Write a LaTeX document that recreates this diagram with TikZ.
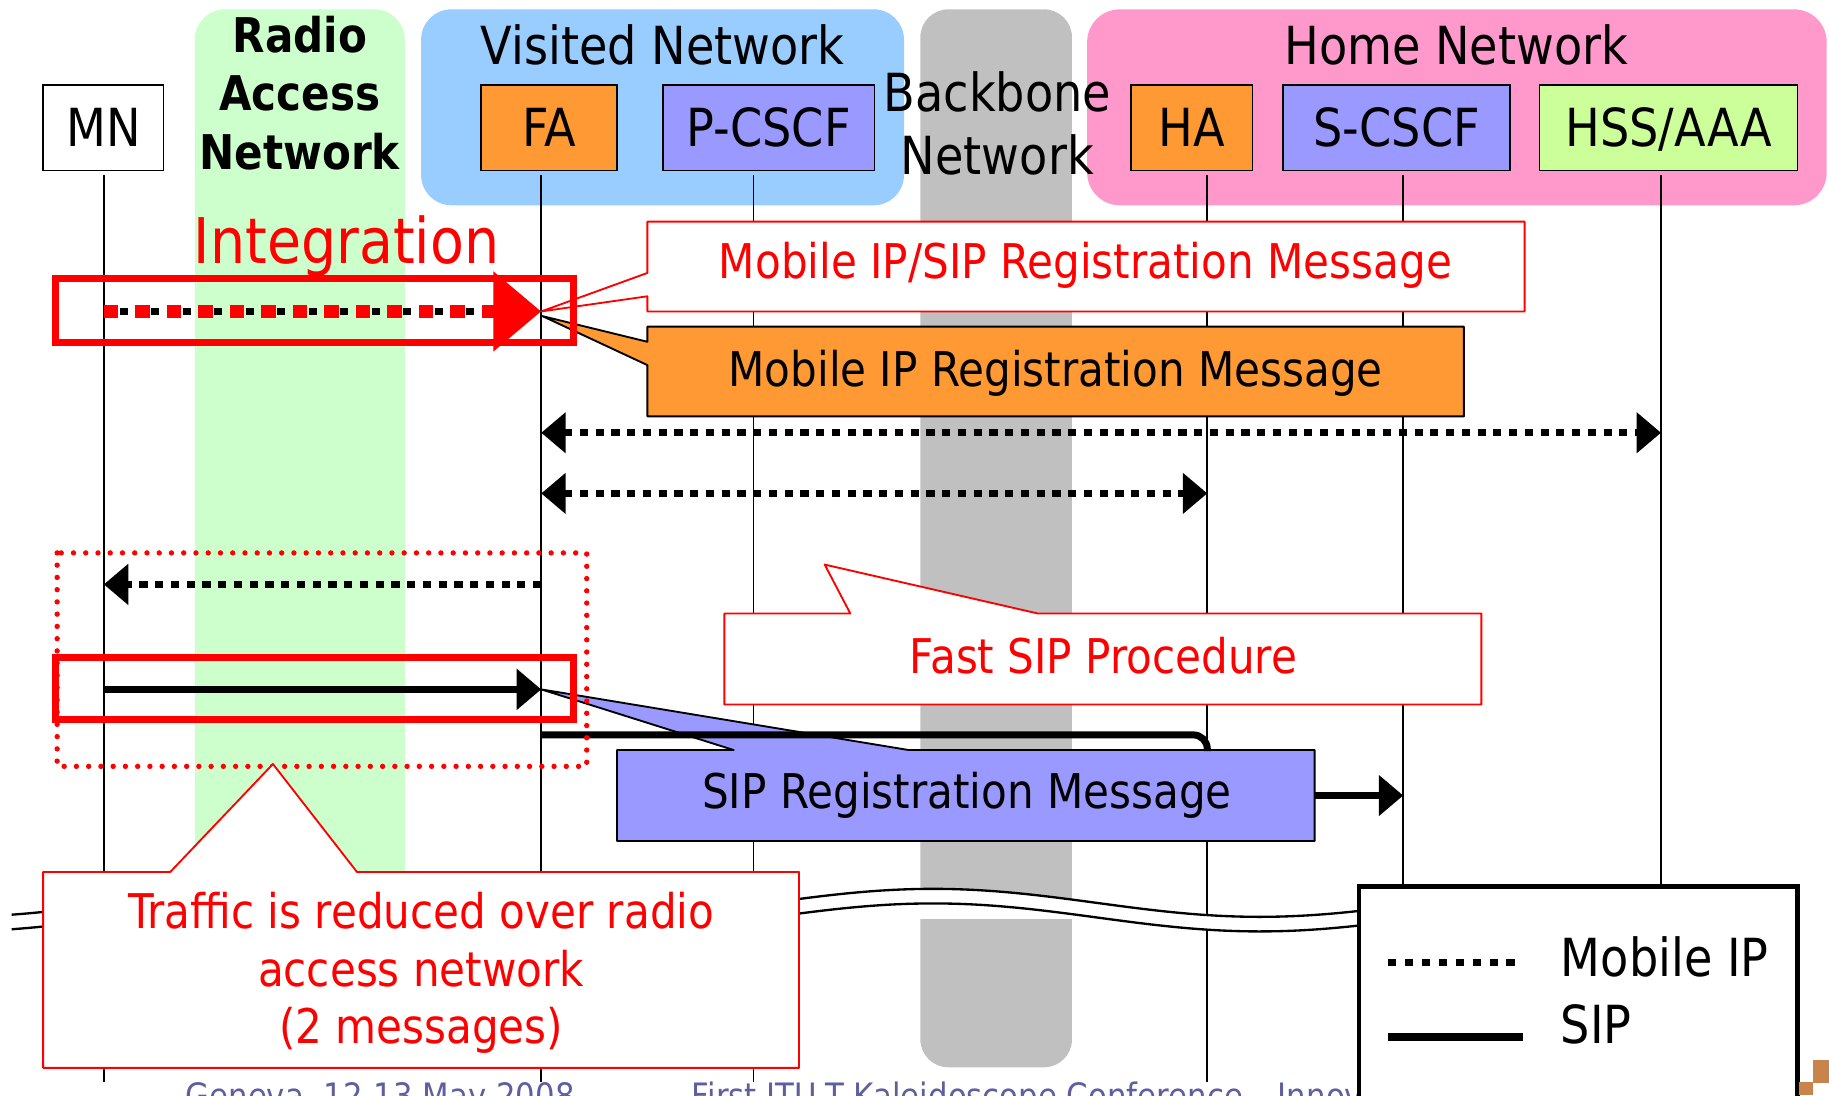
\documentclass[tikz,border=0pt]{standalone}
\usepackage{fontspec}
\setmainfont[FakeStretch=0.88]{DejaVu Sans}
\usetikzlibrary{arrows.meta}
\newcommand\diagfs[1]{\fontsize{#1}{#1}\selectfont}
\definecolor{ranGreen}{HTML}{CCFFCC}
\definecolor{visBlue}{HTML}{99CCFF}
\definecolor{bbGray}{HTML}{C0C0C0}
\definecolor{homePink}{HTML}{FF99CC}
\definecolor{agentOrange}{HTML}{FF9933}
\definecolor{cscfBlue}{HTML}{9999FF}
\definecolor{hssGreen}{HTML}{CCFF99}
\definecolor{footBlue}{HTML}{5F5F9F}
\definecolor{cornerBrown}{HTML}{C8844A}
\begin{document}
\begin{tikzpicture}[x=1pt, y=-1pt,
  >={Triangle[length=21pt,width=34pt]},
  ent/.style={draw=black, line width=1.3pt, minimum height=73.5pt, inner sep=0pt,
              text height=32.8pt, text depth=0pt, font=\diagfs{45}},
  lifeline/.style={line width=1.4pt},
  mip/.style={line width=6pt, dash pattern=on 7pt off 6.5pt},
  sipline/.style={line width=6pt},
  redcall/.style={draw=red, line width=1.6pt, fill=white, line join=round},
  blkcall/.style={draw=black, line width=1.6pt, line join=round},
  msg/.style={anchor=base, font=\diagfs{41}, inner sep=0pt},
  bandlbl/.style={anchor=base, font=\diagfs{45}, inner sep=0pt},
  wave/.style={line width=2pt}
]
\useasboundingbox (0,0) rectangle (1568,939);
\clip (0,0) rectangle (1568,939);

% network domains
\fill[ranGreen, rounded corners=26pt] (167,8) rectangle (347,900);
\fill[visBlue, rounded corners=26pt] (361,8) rectangle (775,176);
\fill[bbGray, rounded corners=24pt] (789,8) rectangle (919,915);
\fill[white] (787,772) rectangle (921,788);
\fill[homePink, rounded corners=28pt] (932,8) rectangle (1566,176);

\node[anchor=base, font=\bfseries\diagfs{41}, inner sep=0pt] (ranA) at (257,45) {Radio};
\node[anchor=base, font=\bfseries\diagfs{41}, inner sep=0pt] (ranB) at (257,95) {Access};
\node[anchor=base, font=\bfseries\diagfs{41}, inner sep=0pt] (ranC) at (257,145) {Network};
\node[bandlbl] (vis) at (568,55) {Visited Network};
\node[bandlbl] (bbA) at (855,96) {Backbone};
\node[bandlbl] (bbB) at (855,150) {Network};
\node[bandlbl] (home) at (1248.5,55) {Home Network};

% entities
\node[ent, fill=white, minimum width=103.5pt] (mn) at (88.6,109.6) {MN};
\node[ent, fill=agentOrange, minimum width=116.5pt] (fa) at (470.8,109.6) {FA};
\node[ent, fill=cscfBlue, minimum width=181pt] (pcscf) at (659,109.6) {P-CSCF};
\node[ent, fill=agentOrange, minimum width=104pt] (ha) at (1021.8,109.6) {HA};
\node[ent, fill=cscfBlue, minimum width=194.6pt] (scscf) at (1197.3,109.6) {S-CSCF};
\node[ent, fill=hssGreen, minimum width=221pt] (hss) at (1430.5,109.6) {HSS/AAA};

% lifelines and message rows
\coordinate (lmn) at (89,0);
\coordinate (lfa) at (464,0);
\coordinate (lpc) at (646,0);
\coordinate (lha) at (1035,0);
\coordinate (lsc) at (1203,0);
\coordinate (lhss) at (1424,0);
\coordinate (rtop) at (0,150);
\coordinate (rbot) at (0,928);
\coordinate (r267) at (0,267);
\coordinate (r371) at (0,371);
\coordinate (r423) at (0,423);
\coordinate (r501) at (0,501);
\coordinate (r591) at (0,591);
\coordinate (r630) at (0,630);
\coordinate (r644) at (0,644);
\foreach \l in {lmn,lfa,lpc,lha,lsc,lhss}
  \draw[lifeline] (\l |- rtop) -- (\l |- rbot);

% time break
\fill[white] plot[domain=10:1170, samples=100, smooth] (\x,{774+12*cos(0.642857*(\x-1080))})
  -- plot[domain=1170:10, samples=100, smooth] (\x,{786.5+12*cos(0.642857*(\x-1080))}) -- cycle;
\draw[wave] plot[domain=10:1170, samples=100, smooth] (\x,{774+12*cos(0.642857*(\x-1080))});
\draw[wave] plot[domain=10:1170, samples=100, smooth] (\x,{786.5+12*cos(0.642857*(\x-1080))});

% callouts
\draw[redcall] (555,190) -- (1307,190) -- (1307,267) -- (555,267) -- (555,254) -- (464,267) -- (555,234) -- cycle;
\node[msg, text=red] (mipsip) at (930.5,239) {Mobile IP/SIP Registration Message};

\draw[blkcall, fill=agentOrange] (555,280) -- (1255,280) -- (1255,357) -- (555,357) -- (555,313) -- (465,271) -- (555,293) -- cycle;
\node[msg] (mipreg) at (905,331) {Mobile IP Registration Message};

\draw[redcall] (621,526) -- (729,526) -- (707,484) -- (890,526) -- (1270,526) -- (1270,604) -- (621,604) -- cycle;
\node[msg, text=red] (fastsip) at (946,577) {Fast SIP Procedure};

\draw[blkcall, fill=cscfBlue] (529,643) -- (629,643) -- (464,591) -- (779,643) -- (1127,643) -- (1127,721) -- (529,721) -- cycle;
\node[msg] (sipreg) at (829,693) {SIP Registration Message};
\coordinate (sipout) at (1127,682);

% messages
\draw[mip, <->] (lfa |- r371) -- (lhss |- r371);
\draw[mip, <->] (lfa |- r423) -- (lha |- r423);
\draw[mip, ->] (lfa |- r501) -- (lmn |- r501);
\draw[sipline, ->] (lmn |- r591) -- (lfa |- r591);
\draw[sipline, rounded corners=12pt] (lfa |- r630) -- (lha |- r630) -- (lha |- r644);
\draw[sipline, ->] (sipout) -- (lsc |- sipout);

% integrated registration
\draw[red, line width=6pt] (48,239) rectangle (492,294);
\draw[mip, shorten >=40pt] (lmn |- r267) -- (lfa |- r267);
\draw[red, line width=11pt, dash pattern=on 12.5pt off 14.5pt, -{Triangle[length=41pt,width=66pt]}] (lmn |- r267) -- (lfa |- r267);
\node[anchor=base west, text=red, font=\diagfs{54}, inner sep=0pt] (integ) at (166,226) {Integration};

% fast SIP exchange over the radio access network
\draw[red, line width=4.6pt, dash pattern=on 0pt off 10.5pt, line cap=round] (49,474) rectangle (503,657);
\draw[red, line width=6pt] (48,564) rectangle (492,617);

\draw[redcall] (37,747.5) -- (146,747.5) -- (234,655) -- (306,747.5) -- (685,747.5) -- (685,915.5) -- (37,915.5) -- cycle;
\node[msg, text=red] (trafA) at (361,796) {Traffic is reduced over radio};
\node[msg, text=red] (trafB) at (361,846) {access network};
\node[msg, text=red] (trafC) at (361,895) {(2 messages)};

% footer
\node[anchor=base west, text=footBlue, font=\diagfs{30}, inner sep=0pt] (footA) at (159,950) {Geneva, 12-13 May 2008};
\node[anchor=base west, text=footBlue, font=\diagfs{30}, inner sep=0pt] (footB) at (593,950) {First ITU-T Kaleidoscope Conference – Innovations in NGN};

% legend
\draw[line width=3.5pt, fill=white] (1165,760) rectangle (1541,975);
\coordinate (lgA) at (1190,825.5);
\coordinate (lgB) at (1306,825.5);
\coordinate (lgC) at (1190,889);
\coordinate (lgD) at (1306,889);
\draw[mip, dash pattern=on 7pt off 7.5pt] (lgA) -- (lgB);
\draw[line width=7pt] (lgC) -- (lgD);
\node[anchor=base west, font=\diagfs{45}, inner sep=0pt] (lgMip) at (1338,837) {Mobile IP};
\node[anchor=base west, font=\diagfs{45}, inner sep=0pt] (lgSip) at (1338,895) {SIP};

% corner mark
\fill[cornerBrown] (1554.5,909) rectangle (1568,928.5);
\fill[cornerBrown] (1542.3,928) rectangle (1554.5,939);
\end{tikzpicture}
\end{document}
